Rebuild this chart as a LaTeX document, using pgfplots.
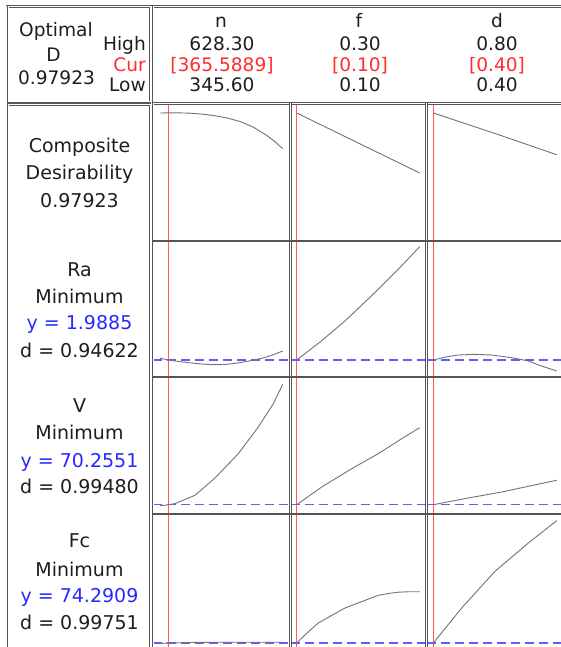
\documentclass[border=0pt]{standalone}
\usepackage{pgfplots}
\pgfplotsset{compat=1.18}
\usepackage{fontspec}
\setmainfont{DejaVu Sans}
\definecolor{txt}{RGB}{30,30,30}
\definecolor{bluetxt}{RGB}{40,40,255}
\definecolor{redtxt}{RGB}{255,45,45}
\definecolor{curvec}{RGB}{115,115,115}
\definecolor{redl}{RGB}{255,90,90}
\definecolor{bdash}{RGB}{95,95,255}
\definecolor{bordc}{RGB}{85,85,85}
\newcommand\lf{\fontsize{19}{23}\selectfont}
\newcommand\hf{\fontsize{18.6}{22}\selectfont}
\pgfplotsset{
  panel/.style={scale only axis, hide axis, clip=false, ymin=0, anchor=south west},
  c1/.style={width=137.5pt, xmin=329.47, xmax=646.27},
  c2/.style={width=136pt, xmin=0.08992, xmax=0.31106},
  c3/.style={width=135.5pt, xmin=0.37796, xmax=0.81718},
  r1/.style={height=138.5pt, ymax=138.5},
  r2/.style={height=136pt, ymax=136},
  r3/.style={height=137pt, ymax=137},
  r4/.style={height=136pt, ymax=136},
  cur/.style={color=redl, line width=1.1pt},
  crv/.style={color=curvec, line width=0.9pt},
  opt/.style={color=bdash, line width=1.1pt, dash pattern=on 9pt off 5pt},
}
\begin{document}
\begin{tikzpicture}[x=1pt, y=1pt]
\useasboundingbox (0,0) rectangle (561,647);
\clip (0,0) rectangle (561,647);
\fill[white] (0,0) rectangle (561,647);

% ---------- row 1: composite desirability ----------
\begin{axis}[panel, c1, r1, at={(153pt,406pt)}]
\addplot[cur] coordinates {(365.5889,0) (365.5889,138.5)};
\addplot[crv] coordinates {(345.6,128) (380,128.2) (410,127.9) (440,127) (470,125.4) (500,123) (530,119.5) (560,114) (590,106) (610,99.5) (628.3,92.3)};
\end{axis}
\begin{axis}[panel, c2, r1, at={(290.5pt,406pt)}]
\addplot[cur] coordinates {(0.10,0) (0.10,138.5)};
\addplot[crv] coordinates {(0.10,128) (0.20,98) (0.30,68)};
\end{axis}
\begin{axis}[panel, c3, r1, at={(426.5pt,406pt)}]
\addplot[cur] coordinates {(0.40,0) (0.40,138.5)};
\addplot[crv] coordinates {(0.40,128) (0.60,107.5) (0.80,86.3)};
\end{axis}

% ---------- row 2: Ra ----------
\begin{axis}[panel, c1, r2, at={(153pt,270pt)}]
\addplot[cur] coordinates {(365.5889,0) (365.5889,136)};
\addplot[opt] coordinates {(329.47,17) (646.27,17)};
\addplot[crv] coordinates {(345.6,18.8) (365.59,17) (380,16) (410,14.4) (440,13) (467.7,12.3) (495,12.5) (523,13.9) (548,15.8) (580,18.7) (604,21.8) (628.3,26)};
\end{axis}
\begin{axis}[panel, c2, r2, at={(290.5pt,270pt)}]
\addplot[cur] coordinates {(0.10,0) (0.10,136)};
\addplot[opt] coordinates {(0.08992,17) (0.31106,17)};
\addplot[crv] coordinates {(0.10,17) (0.138,35) (0.1785,56) (0.2327,87.7) (0.2652,107.7) (0.30,130.3)};
\end{axis}
\begin{axis}[panel, c3, r2, at={(426.5pt,270pt)}]
\addplot[cur] coordinates {(0.40,0) (0.40,136)};
\addplot[opt] coordinates {(0.37796,17) (0.81718,17)};
\addplot[crv] coordinates {(0.40,17) (0.44,20) (0.481,22) (0.535,22.7) (0.589,22) (0.654,19.3) (0.708,16) (0.751,11) (0.80,6)};
\end{axis}

% ---------- row 3: V ----------
\begin{axis}[panel, c1, r3, at={(153pt,133pt)}]
\addplot[cur] coordinates {(365.5889,0) (365.5889,137)};
\addplot[opt] coordinates {(329.47,9.3) (646.27,9.3)};
\addplot[crv] coordinates {(345.6,8.2) (365.59,9.3) (380.2,10.4) (426.2,18.7) (472.3,36) (526,60.3) (572.1,87) (606.7,110.3) (628.3,129.7)};
\end{axis}
\begin{axis}[panel, c2, r3, at={(290.5pt,133pt)}]
\addplot[cur] coordinates {(0.10,0) (0.10,137)};
\addplot[opt] coordinates {(0.08992,9.3) (0.31106,9.3)};
\addplot[crv] coordinates {(0.10,9.3) (0.1407,27) (0.1894,45.3) (0.2327,60.3) (0.2707,75.3) (0.30,86.3)};
\end{axis}
\begin{axis}[panel, c3, r3, at={(426.5pt,133pt)}]
\addplot[cur] coordinates {(0.40,0) (0.40,137)};
\addplot[opt] coordinates {(0.37796,9.3) (0.81718,9.3)};
\addplot[crv] coordinates {(0.40,9.3) (0.5134,16) (0.6217,22) (0.708,27.7) (0.80,33.7)};
\end{axis}

% ---------- row 4: Fc ----------
\begin{axis}[panel, c1, r4, at={(153pt,-3pt)}]
\addplot[cur] coordinates {(365.5889,0) (365.5889,136)};
\addplot[opt] coordinates {(329.47,7) (646.27,7)};
\addplot[crv] coordinates {(345.6,6.5) (365.59,7) (426,7.6) (500,7.8) (628.3,7.8)};
\end{axis}
\begin{axis}[panel, c2, r4, at={(290.5pt,-3pt)}]
\addplot[cur] coordinates {(0.10,0) (0.10,136)};
\addplot[opt] coordinates {(0.08992,7) (0.31106,7)};
\addplot[crv] coordinates {(0.10,7) (0.115,16) (0.1351,27) (0.1785,42) (0.2327,54.7) (0.25,56.6) (0.2652,57.8) (0.28,58.2) (0.30,58.2)};
\end{axis}
\begin{axis}[panel, c3, r4, at={(426.5pt,-3pt)}]
\addplot[cur] coordinates {(0.40,0) (0.40,136)};
\addplot[opt] coordinates {(0.37796,7) (0.81718,7)};
\addplot[crv] coordinates {(0.40,7) (0.446,24.5) (0.492,42) (0.60,78.7) (0.708,107) (0.80,129.3)};
\end{axis}

% ---------- frames ----------
\tikzset{dbl/.style={draw=bordc, line width=0.7pt, double=white, double distance=1pt}}
\draw[dbl] (8,640) rectangle (150,545);
\draw[dbl] (153,640) rectangle (570,545);
\draw[dbl] (8,542.5) rectangle (150,-10);
\draw[dbl] (153,543.5) rectangle (570,-10);
\draw[dbl] (290.5,543.5) -- (290.5,-10);
\draw[dbl] (426.5,543.5) -- (426.5,-10);
\draw[bordc, line width=1.3pt] (153,406) -- (570,406);
\draw[bordc, line width=1.3pt] (153,270) -- (570,270);
\draw[bordc, line width=1.3pt] (153,133) -- (570,133);
\draw[bordc, line width=1.2pt] (6,641.5) -- (570,641.5);

% ---------- header text ----------
\begin{scope}[every node/.style={inner sep=0pt, font=\hf, text=txt}]
\node[anchor=base] at (56,610) {Optimal};
\node[anchor=base] at (53.5,585) {D};
\node[anchor=base] at (56.5,562) {0.97923};
\node[anchor=base east] at (146,596) {High};
\node[anchor=base east, text=redtxt] at (146,575.5) {Cur};
\node[anchor=base east] at (146,555) {Low};
\node[anchor=base] at (221,619) {n};
\node[anchor=base] at (222,596) {628.30};
\node[anchor=base, text=redtxt] at (222,575.5) {[365.5889]};
\node[anchor=base] at (222,555) {345.60};
\node[anchor=base] at (359,619) {f};
\node[anchor=base] at (360,596) {0.30};
\node[anchor=base, text=redtxt] at (360,575.5) {[0.10]};
\node[anchor=base] at (360,555) {0.10};
\node[anchor=base] at (497,619) {d};
\node[anchor=base] at (497,596) {0.80};
\node[anchor=base, text=redtxt] at (497,575.5) {[0.40]};
\node[anchor=base] at (497,555) {0.40};
\end{scope}

% ---------- left column text ----------
\begin{scope}[every node/.style={inner sep=0pt, font=\lf, text=txt, anchor=base}]
\node at (79.5,494) {Composite};
\node at (79.5,467) {Desirability};
\node at (79.5,439) {0.97923};
\node at (79.5,370) {Ra};
\node at (79.5,343) {Minimum};
\node[text=bluetxt] at (79.5,317) {y = 1.9885};
\node at (79.5,289) {d = 0.94622};
\node at (79.5,234) {V};
\node at (79.5,207) {Minimum};
\node[text=bluetxt] at (79.5,179) {y = 70.2551};
\node at (79.5,153) {d = 0.99480};
\node at (79.5,99) {Fc};
\node at (79.5,70) {Minimum};
\node[text=bluetxt] at (79.5,44) {y = 74.2909};
\node at (79.5,17) {d = 0.99751};
\end{scope}
\end{tikzpicture}
\end{document}
